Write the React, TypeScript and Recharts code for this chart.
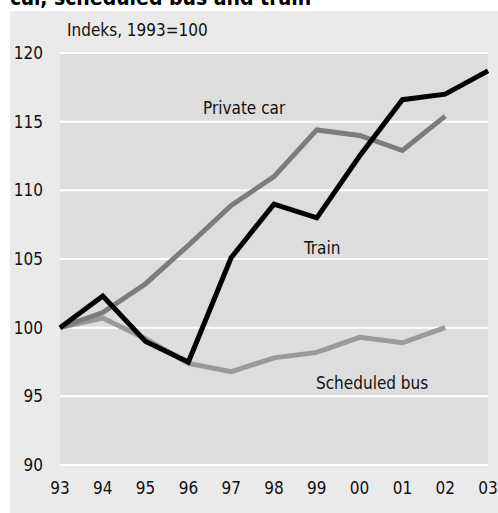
import { CartesianGrid, Line, LineChart, XAxis, YAxis } from "recharts";

const years = ["93", "94", "95", "96", "97", "98", "99", "00", "01", "02", "03"];
const privateCar = [100, 101.1, 103.2, 106, 108.9, 111.0, 114.4, 114.0, 112.9, 115.4, null];
const scheduledBus = [100, 100.7, 99.2, 97.4, 96.8, 97.8, 98.2, 99.3, 98.9, 100.0, null];
const train = [100, 102.3, 99.0, 97.5, 105.1, 109.0, 108.0, 112.5, 116.6, 117.0, 118.7];
const yTicks = [90, 95, 100, 105, 110, 115, 120];

const FONT = '"DejaVu Sans Condensed", "DejaVu Sans", sans-serif';

const data = years.map((y, i) => ({
  year: y,
  car: privateCar[i],
  bus: scheduledBus[i],
  train: train[i],
}));

const label = (left: number, top: number, text: string) => (
  <div
    style={{
      position: "absolute",
      left,
      top,
      fontFamily: FONT,
      fontSize: 17,
      color: "#111",
      whiteSpace: "nowrap",
      lineHeight: 1,
    }}
  >
    {text}
  </div>
);

export default function App() {
  return (
    <div
      style={{
        position: "absolute",
        left: 0,
        top: 0,
        width: 498,
        height: 513,
        background: "#fff",
        overflow: "hidden",
      }}
    >
      {/* title is cut off at the top in the source too */}
      <div
        style={{
          position: "absolute",
          left: 10,
          top: -12,
          fontFamily: FONT,
          fontWeight: "bold",
          fontSize: 21,
          lineHeight: 1,
          color: "#000",
          whiteSpace: "nowrap",
        }}
      >
        car, scheduled bus and train
      </div>
      <div style={{ position: "absolute", left: 10, top: 11, width: 488, height: 502, background: "#eaeaea" }}>
        <LineChart width={488} height={502} data={data} margin={{ top: 42, right: 10, left: 0, bottom: 0 }}>
          <CartesianGrid vertical={false} fill="#dddddd" stroke="#ffffff" strokeWidth={2} />
          <XAxis
            dataKey="year"
            height={48}
            axisLine={false}
            tickLine={false}
            tickSize={0}
            tickMargin={17}
            interval={0}
            tick={{ fontFamily: FONT, fontSize: 17, fill: "#111" }}
          />
          <YAxis
            domain={[90, 120]}
            ticks={yTicks}
            width={50}
            axisLine={false}
            tickLine={false}
            tickSize={0}
            tickMargin={17}
            tick={{ fontFamily: FONT, fontSize: 17, fill: "#111" }}
          />
          <Line dataKey="bus" stroke="#9a9a9a" strokeWidth={5} dot={false} isAnimationActive={false} />
          <Line dataKey="car" stroke="#7c7c7c" strokeWidth={5} dot={false} isAnimationActive={false} />
          <Line dataKey="train" stroke="#000000" strokeWidth={5} dot={false} isAnimationActive={false} />
        </LineChart>
      </div>
      {label(67, 22, "Indeks, 1993=100")}
      {label(203, 100, "Private car")}
      {label(304, 240, "Train")}
      {label(316, 375, "Scheduled bus")}
    </div>
  );
}
